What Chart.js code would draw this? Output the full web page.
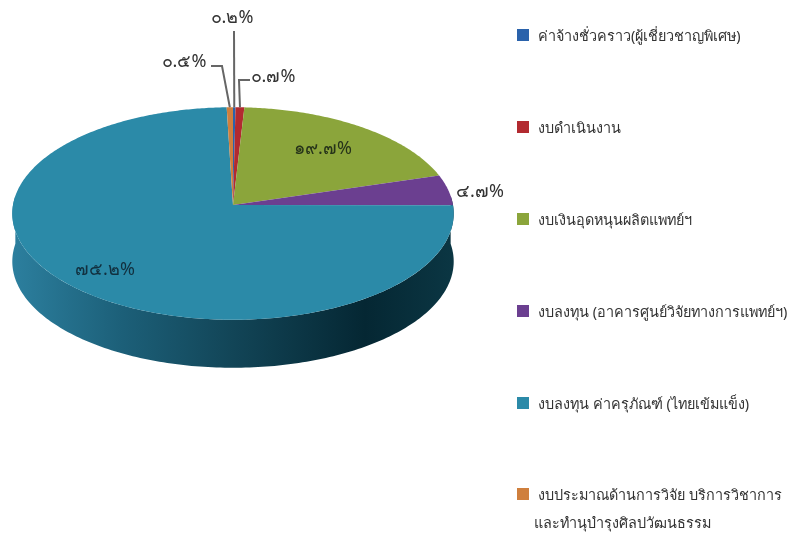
<!DOCTYPE html>
<html>
<head>
<meta charset="utf-8">
<script src="https://cdn.jsdelivr.net/npm/chart.js"></script>
<style>
    html, body { margin: 0; padding: 0; background: #ffffff; }
    #chartWrapper { width: 795px; height: 533px; }
    #myChart { filter: blur(0.6px); }
</style>
<title>Budget</title>
</head>
<body>
<div id="chartWrapper"><canvas id="myChart"></canvas></div>
<script>
const categories = [
    ['ค่าจ้างชั่วคราว(ผู้เชี่ยวชาญพิเศษ)'],
    ['งบดำเนินงาน'],
    ['งบเงินอุดหนุนผลิตแพทย์ฯ'],
    ['งบลงทุน (อาคารศูนย์วิจัยทางการแพทย์ฯ)'],
    ['งบลงทุน ค่าครุภัณฑ์ (ไทยเข้มแข็ง)'],
    ['งบประมาณด้านการวิจัย บริการวิชาการ', 'และทำนุบำรุงศิลปวัฒนธรรม']
];
const values = [0.2, 0.7, 19.7, 4.7, 75.2, 0.5];
const valueLabels = ['๐.๒%', '๐.๗%', '๑๙.๗%', '๔.๗%', '๗๕.๒%', '๐.๕%'];
const colors = ['#2a62ab', '#b22a30', '#8ba53b', '#6b3f90', '#2b8aa8', '#cf7f3d'];

// where each value label sits, and the elbow of its leader line if it has one
const labelPos = [[232, 18], [273, 77], [323, 149], [480, 192], [105, 270], [184, 62]];
const leaderPos = [[234, 31], [239, 80], null, null, null, [222, 66]];
const leaderTail = [null, [250, 80], null, null, null, [211, 66]];
const legendY = [35, 127, 219, 311, 403, 494];

const fontName = '"Noto Sans", "DejaVu Sans", sans-serif';
const tilt = 0.48;         // squash of the pie top
const persp = 0.08;        // front of the pie is nearer
const depth = 48;

// circle point at angle a -> page, with a bit of perspective
function project(arc, a) {
    const u = Math.cos(a), v = Math.sin(a);
    const w = 1 - persp * v;
    return [arc.x + arc.outerRadius * u / w, arc.y + arc.outerRadius * tilt * v / w];
}

const pie3d = {
    id: 'pie3d',
    beforeDatasetDraw(chart) {
        const ctx = chart.ctx;
        const arcs = chart.getDatasetMeta(0).data;
        const first = arcs[0];

        // side wall
        const side = ctx.createLinearGradient(first.x - first.outerRadius, 0, first.x + first.outerRadius, 0);
        side.addColorStop(0, '#2c7f9e');
        side.addColorStop(0.25, '#1c5f78');
        side.addColorStop(0.5, '#124557');
        side.addColorStop(0.8, '#052733');
        side.addColorStop(1, '#0b3643');
        ctx.fillStyle = side;
        ctx.beginPath();
        for (let i = -5; i <= 185; i++) {
            const p = project(first, i * Math.PI / 180);
            ctx.lineTo(p[0], p[1]);
        }
        for (let i = 185; i >= -5; i--) {
            const p = project(first, i * Math.PI / 180);
            ctx.lineTo(p[0], p[1] + depth);
        }
        ctx.closePath();
        ctx.fill();

        // top face, angles come from the library
        arcs.forEach((arc, i) => {
            ctx.fillStyle = colors[i];
            ctx.beginPath();
            ctx.moveTo(arc.x, arc.y);
            const steps = Math.max(2, Math.ceil((arc.endAngle - arc.startAngle) * 90));
            for (let s = 0; s <= steps; s++) {
                const p = project(arc, arc.startAngle + (arc.endAngle - arc.startAngle) * s / steps);
                ctx.lineTo(p[0], p[1]);
            }
            ctx.closePath();
            ctx.fill();
        });
        return false;
    },
    afterDatasetsDraw(chart) {
        const ctx = chart.ctx;
        const arcs = chart.getDatasetMeta(0).data;

        // leader lines
        ctx.strokeStyle = '#666666';
        ctx.lineWidth = 2;
        arcs.forEach((arc, i) => {
            if (!leaderPos[i]) return;
            const p = project(arc, (arc.startAngle + arc.endAngle) / 2);
            ctx.beginPath();
            ctx.moveTo(p[0], p[1]);
            ctx.lineTo(leaderPos[i][0], leaderPos[i][1]);
            if (leaderTail[i]) ctx.lineTo(leaderTail[i][0], leaderTail[i][1]);
            ctx.stroke();
        });

        // value labels
        ctx.textAlign = 'center';
        ctx.textBaseline = 'middle';
        ctx.font = '18px ' + fontName;
        valueLabels.forEach((t, i) => {
            ctx.fillStyle = i == 4 ? '#12303f' : (i == 2 ? '#26331a' : '#333333');
            ctx.fillText(t, labelPos[i][0], labelPos[i][1]);
        });

        // legend
        ctx.textAlign = 'left';
        ctx.font = '14.4px ' + fontName;
        categories.forEach((lines, i) => {
            ctx.fillStyle = colors[i];
            ctx.fillRect(517, legendY[i] - 6, 12, 12);
            ctx.fillStyle = '#333333';
            lines.forEach((line, n) => {
                ctx.fillText(line, n == 0 ? 538 : 534, legendY[i] + 2 + n * 28);
            });
        });
    }
};

const myChart = new Chart(document.getElementById('myChart'), {
    type: 'pie',
    plugins: [pie3d],
    data: {
        labels: categories,
        datasets: [{ data: values, backgroundColor: colors, borderWidth: 0 }]
    },
    options: {
        responsive: true,
        maintainAspectRatio: false,
        animation: false,
        radius: 220,
        layout: { padding: { left: 0, top: 0, right: 329, bottom: 123 } },
        plugins: { legend: { display: false }, tooltip: { enabled: false }, title: { display: false } }
    }
});
</script>
</body>
</html>
